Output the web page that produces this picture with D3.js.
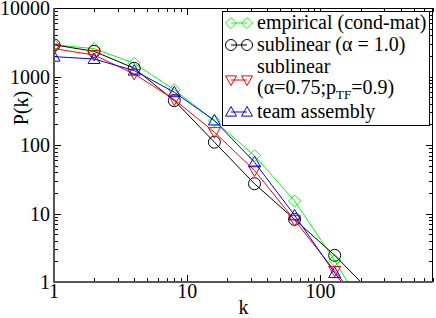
<!DOCTYPE html>
<html>
<head>
<meta charset="utf-8">
<script src="https://cdn.jsdelivr.net/npm/d3@7"></script>
<style>
  body { margin: 0; background: #fff; }
</style>
</head>
<body>
<svg width="436" height="318" font-family="Liberation Serif, Times New Roman, Times, serif"></svg>
<script>
// degree k and P(k) for each series
var kValues = [1, 2, 4, 8, 16, 32, 64, 128, 256];
var empirical = [2900, 2550, 1560, 640, 225, 70, 15.2, 2.07, 0.21];
var sublinear = [2900, 2330, 1320, 445, 110, 27.2, 8.2, 2.45, 0.62];
var sublinearTF = [2550, 2060, 1090, 460, 154, 42.5, 8.0, 1.45, 0.26];
var teamAssembly = [1950, 1800, 1220, 590, 228, 56, 9.4, 1.35, 0.245];

var xTickLabels = ["1", "10", "100"];
var yTickLabels = ["1", "10", "100", "1000", "10000"];

var series = [
    { name: "empirical", values: empirical, color: "#00ff00", shape: "diamond" },
    { name: "sublinear", values: sublinear, color: "#000000", shape: "circle" },
    { name: "sublinearTF", values: sublinearTF, color: "#ff0000", shape: "down" },
    { name: "team", values: teamAssembly, color: "#0000ff", shape: "up" }
];

var svg = d3.select("svg");
var plotLeft = 54, plotRight = 433, plotTop = 8, plotBottom = 282;

var x = d3.scaleLog().domain([1, 700]).range([plotLeft, plotRight]);
var y = d3.scaleLog().domain([1, 10000]).range([plotBottom, plotTop]);

function markerPath(shape, r) {
    if (shape == "circle") return d3.symbol(d3.symbolCircle, Math.PI * r * r)();
    if (shape == "diamond") return "M0," + (-r) + "L" + r + ",0L0," + r + "L" + (-r) + ",0Z";
    var h = r * 1.0;
    if (shape == "up") return "M0," + (-h) + "L" + r + "," + (h * 0.75) + "L" + (-r) + "," + (h * 0.75) + "Z";
    return "M0," + h + "L" + r + "," + (-h * 0.75) + "L" + (-r) + "," + (-h * 0.75) + "Z";
}

svg.append("clipPath").attr("id", "plotclip")
    .append("rect")
    .attr("x", plotLeft).attr("y", plotTop)
    .attr("width", plotRight - plotLeft).attr("height", plotBottom - plotTop);

// ticks
var minorX = [];
[1, 10, 100].forEach(function(d) {
    for (var i = 2; i <= 9; i++) if (d * i <= 700) minorX.push(d * i);
});
var minorY = [];
[1, 10, 100, 1000].forEach(function(d) {
    for (var i = 2; i <= 9; i++) minorY.push(d * i);
});
var majorX = [1, 10, 100];
var majorY = [1, 10, 100, 1000, 10000];

var ticks = svg.append("g").attr("stroke", "#000").attr("stroke-width", 1);
function tickX(vals, len) {
    vals.forEach(function(v) {
        var px = Math.round(x(v)) + 0.5;
        ticks.append("line").attr("x1", px).attr("x2", px).attr("y1", plotBottom).attr("y2", plotBottom - len);
        ticks.append("line").attr("x1", px).attr("x2", px).attr("y1", plotTop).attr("y2", plotTop + len);
    });
}
function tickY(vals, len) {
    vals.forEach(function(v) {
        var py = Math.round(y(v)) + 0.5;
        ticks.append("line").attr("y1", py).attr("y2", py).attr("x1", plotLeft).attr("x2", plotLeft + len);
        ticks.append("line").attr("y1", py).attr("y2", py).attr("x1", plotRight).attr("x2", plotRight - len);
    });
}
tickX(majorX, 7);
tickX(minorX, 4);
tickY(majorY, 7);
tickY(minorY, 4);

// series
var line = d3.line()
    .x(function(d) { return x(d[0]); })
    .y(function(d) { return y(d[1]); });

var plot = svg.append("g").attr("clip-path", "url(#plotclip)");
series.forEach(function(s) {
    var pts = kValues.map(function(k, i) { return [k, s.values[i]]; });
    plot.append("path")
        .datum(pts)
        .attr("d", line)
        .attr("fill", "none")
        .attr("stroke", s.color)
        .attr("stroke-width", 1);
    plot.selectAll(null)
        .data(pts)
        .enter()
        .append("path")
        .attr("d", markerPath(s.shape, 6))
        .attr("transform", function(d) { return "translate(" + x(d[0]) + "," + y(d[1]) + ")"; })
        .attr("fill", "none")
        .attr("stroke", s.color)
        .attr("stroke-width", 1);
});

// frame
svg.append("rect")
    .attr("x", plotLeft + 0.5).attr("y", plotTop + 0.5)
    .attr("width", plotRight - plotLeft - 1).attr("height", plotBottom - plotTop - 1)
    .attr("fill", "none").attr("stroke", "#000").attr("stroke-width", 1);
svg.append("line").attr("x1", plotLeft).attr("x2", plotLeft).attr("y1", plotTop).attr("y2", plotBottom + 1)
    .attr("stroke", "#555").attr("stroke-width", 2);
svg.append("line").attr("x1", plotLeft - 1).attr("x2", plotRight).attr("y1", plotBottom).attr("y2", plotBottom)
    .attr("stroke", "#555").attr("stroke-width", 2);

// tick labels
svg.selectAll(".xl")
    .data(majorX)
    .enter()
    .append("text")
    .attr("x", function(d) { return x(d); })
    .attr("y", 298)
    .attr("text-anchor", "middle")
    .attr("font-size", 20)
    .text(function(d, i) { return xTickLabels[i]; });

svg.selectAll(".yl")
    .data(majorY)
    .enter()
    .append("text")
    .attr("x", 50)
    .attr("y", function(d) { return y(d) + 7; })
    .attr("text-anchor", "end")
    .attr("font-size", 20)
    .text(function(d, i) { return yTickLabels[i]; });

svg.append("text")
    .attr("x", (plotLeft + plotRight) / 2)
    .attr("y", 314)
    .attr("text-anchor", "middle")
    .attr("font-size", 20)
    .text("k");

svg.append("text")
    .attr("transform", "translate(28,108) rotate(-90)")
    .attr("text-anchor", "middle")
    .attr("font-size", 20)
    .text("P(k)");

// legend
var legend = svg.append("g");
legend.append("rect")
    .attr("x", 222.5).attr("y", 11.5)
    .attr("width", 207).attr("height", 114)
    .attr("fill", "#fff").attr("stroke", "#000").attr("stroke-width", 1);

var legendRows = [
    { s: series[0], sy: 23, lines: [["empirical (cond-mat)"]], ty: [29] },
    { s: series[1], sy: 45, lines: [["sublinear (\u03b1 = 1.0)"]], ty: [51] },
    { s: series[2], sy: 80, lines: [["sublinear"], ["(\u03b1=0.75;p", "TF", "=0.9)"]], ty: [73, 94] },
    { s: series[3], sy: 112, lines: [["team assembly"]], ty: [118] }
];

legendRows.forEach(function(row) {
    legend.append("line")
        .attr("x1", 231).attr("x2", 247)
        .attr("y1", row.sy).attr("y2", row.sy)
        .attr("stroke", row.s.color).attr("stroke-width", 1);
    [231, 247].forEach(function(mx) {
        legend.append("path")
            .attr("d", markerPath(row.s.shape, 5.5))
            .attr("transform", "translate(" + mx + "," + row.sy + ")")
            .attr("fill", "none")
            .attr("stroke", row.s.color);
    });
    row.lines.forEach(function(parts, i) {
        var t = legend.append("text")
            .attr("x", 257)
            .attr("y", row.ty[i])
            .attr("font-size", 20);
        t.append("tspan").text(parts[0]);
        if (parts.length > 1) {
            t.append("tspan").attr("font-size", 13).attr("dy", 5).text(parts[1]);
            t.append("tspan").attr("dy", -5).text(parts[2]);
        }
    });
});
</script>
</body>
</html>
